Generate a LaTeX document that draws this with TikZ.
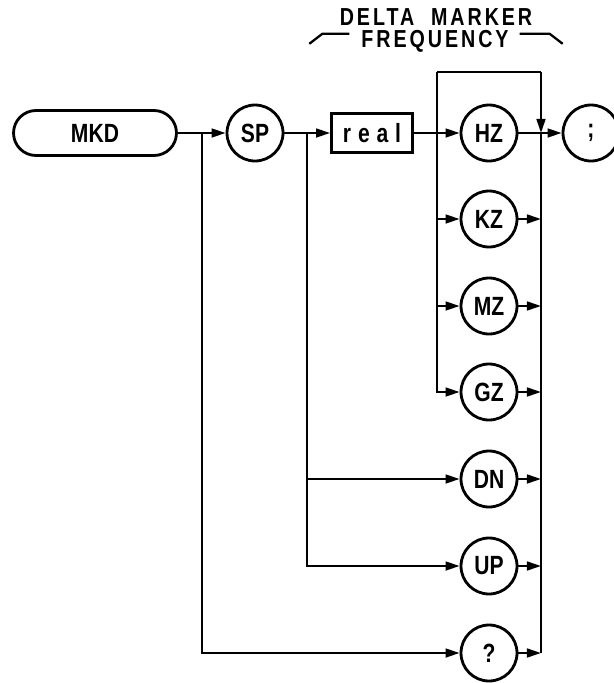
\documentclass[tikz,border=0pt]{standalone}
\usepackage{fontspec}
\setmainfont{Liberation Sans}[FakeStretch=0.8]
\usetikzlibrary{arrows.meta}
\tikzset{
  tok/.style={circle,draw,line width=1.6pt,minimum size=1.12cm,inner sep=0pt,
    font=\bfseries\fontsize{15}{15}\selectfont},
  cmdbox/.style={rectangle,draw,line width=1.6pt,rounded corners=0.45cm,
    minimum width=3.26cm,minimum height=0.9cm,inner sep=0pt,
    font=\bfseries\fontsize{15}{15}\selectfont},
  litbox/.style={rectangle,draw,line width=1.6pt,minimum width=1.62cm,
    minimum height=0.78cm,inner sep=0pt,
    font=\bfseries\fontsize{15}{15}\selectfont\addfontfeature{LetterSpace=26}},
  toplabel/.style={inner sep=0pt,anchor=base,
    font=\bfseries\fontsize{14}{14}\selectfont\addfontfeature{LetterSpace=12}},
}

\begin{document}
\begin{tikzpicture}[x=0.02cm,y=-0.02cm,line width=1.3pt,>={Triangle[length=8pt,width=5pt]}]
\useasboundingbox (0,0) rectangle (614,683);
% titel
\node[toplabel] (delta) at (436,25) {DELTA\ \ MARKER};
\node[toplabel] (freq) at (435,47) {FREQUENCY};
\draw (freq.west) ++(-11,-7) -- ++(-27,0) -- ++(-13,10);
\draw (freq.east) ++(10,-7) -- ++(30,0) -- ++(13,10);
% hoofdlijn
\node[cmdbox] (mkd) at (95,133) {MKD};
\node[tok] (sp) at (255,133) {SP};
\node[litbox] (real) at (372,133) {real};
\node[tok] (hz) at (489,133) {HZ};
\node[tok] (semi) at (591,133) {;};
% eenheden
\node[tok] (kz) at (489,219) {KZ};
\node[tok] (mz) at (489,306) {MZ};
\node[tok] (gz) at (489,392) {GZ};
\node[tok] (dn) at (489,479) {DN};
\node[tok] (up) at (489,566) {UP};
\node[tok] (qm) at (489,653) {?};
\coordinate (j1) at (202,133);
\coordinate (j2) at (307,133);
\coordinate (lft) at (437,72);
\coordinate (rgt) at (541,72);
\coordinate (jr) at (541,133);
\draw[->] (mkd) -- (sp);
\draw[->] (sp) -- (real);
\draw[->] (real) -- (hz);
\draw[->] (hz) -- (semi);
\draw[->] (j1) |- (qm);
\draw[->] (j2) |- (dn);
\draw[->] (j2) |- (up);
\draw[->] (lft) |- (gz);
\draw (lft) -- (rgt);
\draw[->] (rgt) -- (jr);
\draw (jr) -- (qm -| jr);
\foreach \n in {kz,mz}
  \draw[->] (\n -| lft) -- (\n);
\foreach \n in {kz,mz,gz,dn,up,qm}
  \draw[->] (\n) -- (\n -| jr);
\end{tikzpicture}
\end{document}
